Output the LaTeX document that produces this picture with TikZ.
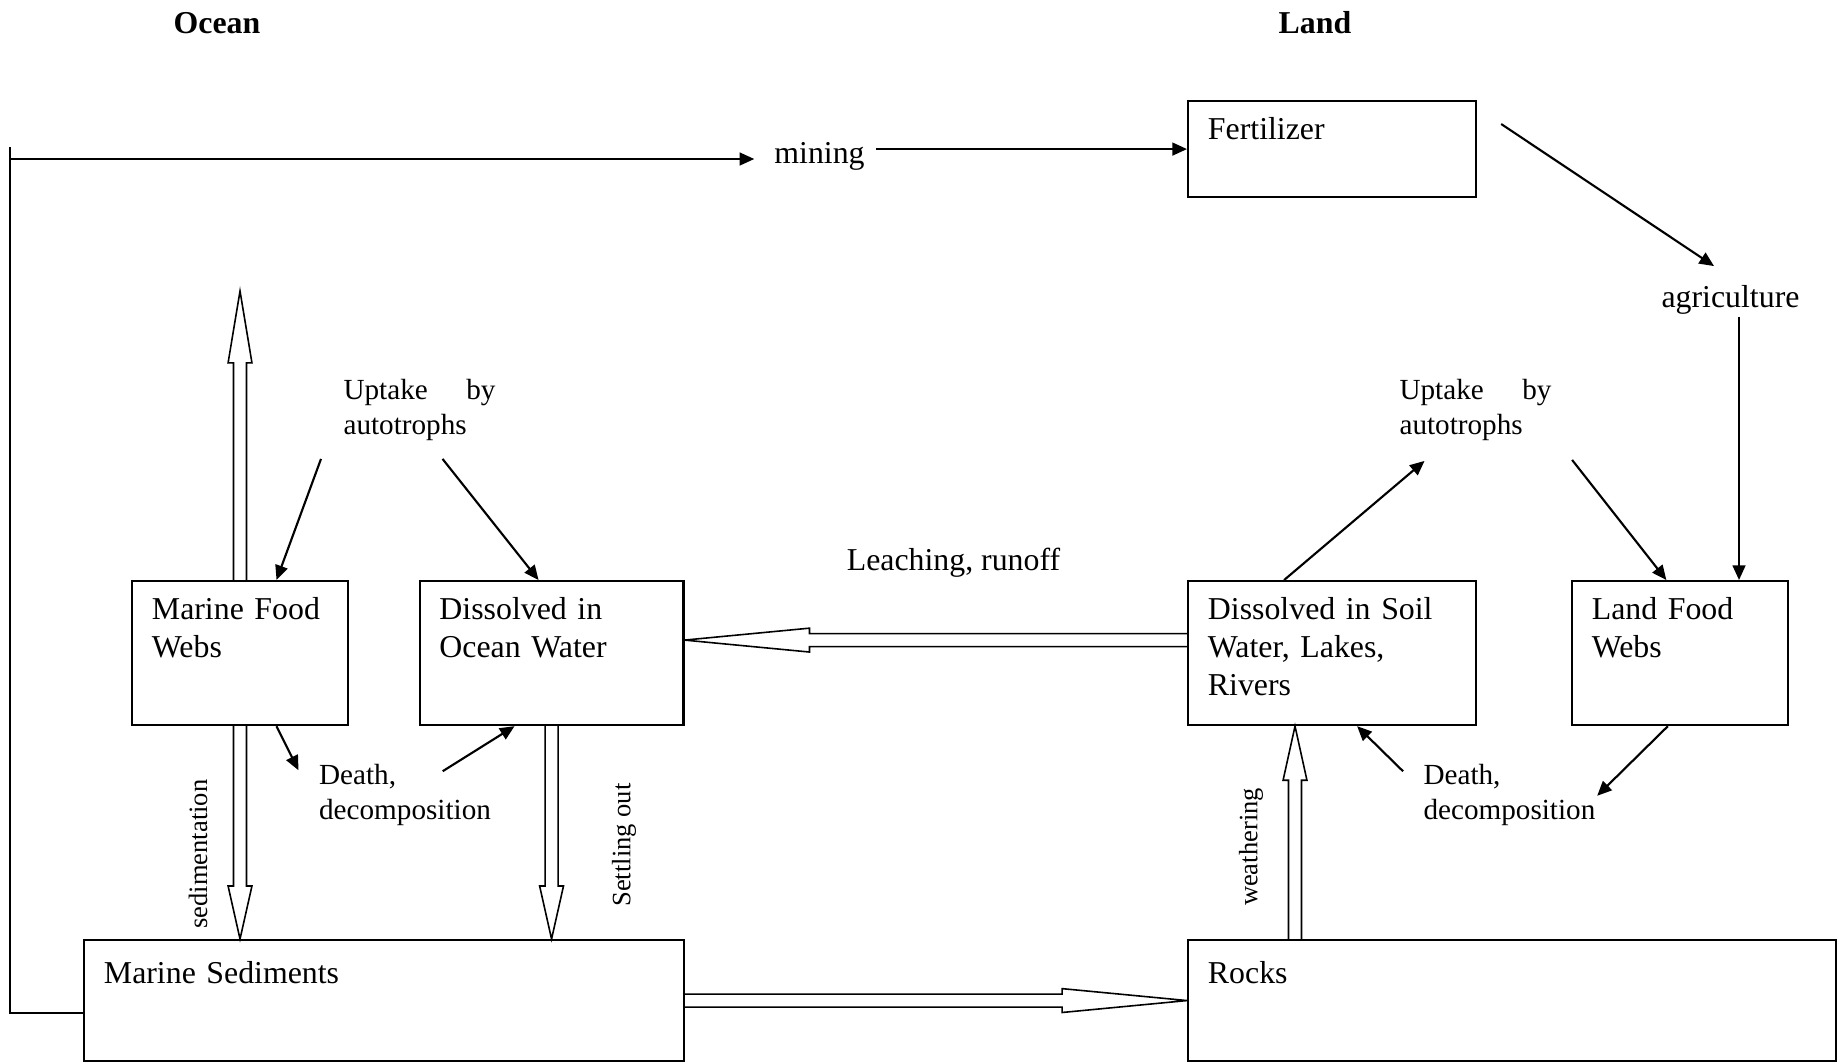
\documentclass[tikz,border=0pt]{standalone}
\usepackage{fontspec}
\setmainfont{Liberation Serif}
\usepackage{tikz}
\usetikzlibrary{calc,arrows.meta,positioning,backgrounds}
\tikzstyle{reservoir}=[draw,line width=0.8pt,anchor=north west,inner xsep=7.5pt,inner ysep=0pt,align=left,text height=14.6pt,text depth=39.7pt,font={\fontsize{12}{14.2}\selectfont}]
\tikzstyle{process}=[inner sep=4pt,anchor=base,font={\fontsize{12}{14.2}\selectfont}]
\tikzstyle{note}=[inner sep=4pt,align=left,anchor=base west,font={\fontsize{11}{13.4}\selectfont}]
\tikzstyle{sideways}=[rotate=90,inner sep=1pt,font={\fontsize{10}{12}\selectfont}]
\tikzstyle{region}=[anchor=base,font={\fontsize{12}{14.2}\selectfont\bfseries}]
\tikzstyle{flow}=[line width=0.8pt,->]
\newcommand{\bigflow}[3]{%
  \draw[line width=0.6pt,fill=white,line join=miter]
    let \p1=#2, \p2=#3, \n1={atan2(\y2-\y1,\x2-\x1)}, \n2={veclen(\x2-\x1,\y2-\y1)} in
    [shift={(\p1)},rotate=\n1]
    (0pt,2.45pt) -- ({\n2-#1},2.45pt) -- ({\n2-#1},4.5pt) -- (\n2,0pt)
    -- ({\n2-#1},-4.5pt) -- ({\n2-#1},-2.45pt) -- (0pt,-2.45pt);
}

\begin{document}
\begin{tikzpicture}[x=0.377pt,y=-0.377pt,>={Triangle[length=5.5pt,width=4.8pt]}]
\useasboundingbox (0,0) rectangle (1845,1062);
\node[region] (ocean) at (217,33) {Ocean};
\node[region] (land) at (1315,33) {Land};

\node[reservoir,text width=66.4pt] (mfw) at (131,580) {Marine Food\\Webs};
\node[reservoir,text width=84.5pt,right=26.2pt of mfw] (ocw) {Dissolved in\\Ocean Water};
\node[reservoir,text width=93.6pt] (soil) at (1187,580) {Dissolved in Soil\\Water, Lakes,\\Rivers};
\node[reservoir,text width=66.4pt,right=35.3pt of soil] (lfw) {Land Food\\Webs};
\node[reservoir,text width=93.6pt,text depth=21.6pt] (fert) at (1187,100) {Fertilizer};
\node[reservoir,text width=211.2pt,text height=16.2pt,text depth=29.4pt] (msed) at (83,939) {Marine Sediments};
\node[reservoir,text width=229.3pt,text height=16.2pt,text depth=29.4pt] (rocks) at (1187,939) {Rocks};

\node[process] (mining) at (819.5,163) {mining};
\node[process] (agri) at (1730.5,307) {agriculture};
\node[process] (leach) at (953.5,570) {Leaching, runoff};
\node[note,text width=57.3pt] (upl) at (332.4,399) {Uptake\hfill by\\autotrophs};
\node[note,text width=57.3pt] (upr) at (1388.4,399) {Uptake\hfill by\\autotrophs};
\node[note,text width=66pt] (deathl) at (308,784) {Death,\\decomposition};
\node[note,text width=66pt] (deathr) at (1412.4,784) {Death,\\decomposition};
\node[sideways] (sedi) at (198,854) {sedimentation};
\node[sideways] (settle) at (624,845) {Settling out};
\node[sideways] (weather) at (1251,847) {weathering};

% mining loop
\coordinate (topl) at (10,159);
\coordinate (loopend) at (10,147);
\coordinate (mfwtop) at ($(mfw.north)+(0,-289)$);
\draw[line width=0.8pt] ($(msed.west)+(0,12.5)$) -| (loopend);
\draw[flow] (topl) -- ($(topl -| mining.west)+(-9,0)$);
\draw[flow] (mining.east |- fert.west) -- (fert.west);

% land side
\draw[flow] ($(fert.north east)+(24,24)$) -- ($(agri.north)+(-16.5,-7.7)$);
\draw[flow] ($(agri.south)+(8.5,-8.5)$) -- ($(agri.south |- lfw.north)+(8.5,0)$);
\draw[flow] ($(soil.north)+(-48,0)$) -- ($(upr.south)+(-51,9)$);
\draw[flow] ($(upr.south east)+(9.4,8)$) -- ($(lfw.north)+(-13.5,0)$);
\draw[flow] ($(lfw.south)+(-12,0)$) -- ($(deathr.east)+(-12.6,1)$);
\draw[flow] ($(deathr.north west)+(-9.4,18.6)$) -- ($(soil.south)+(25,0)$);

% ocean side
\draw[flow] ($(upl.south west)+(-11.4,7)$) -- ($(mfw.north)+(36.5,0)$);
\draw[flow] ($(upl.south)+(23,7)$) -- ($(ocw.north)+(-13,0)$);
\draw[flow] ($(mfw.south)+(36.5,0)$) -- ($(deathl.north west)+(-9.5,17.6)$);
\draw[flow] ($(deathl.north)+(36,18.6)$) -- ($(ocw.south)+(-37,0)$);

% hollow arrows
\begin{pgfonlayer}{background}
\bigflow{27.1pt}{(mfw.north)}{(mfwtop)}
\bigflow{20pt}{(mfw.south)}{(mfw.south |- msed.north)}
\bigflow{20pt}{(ocw.south)}{(ocw.south |- msed.north)}
\bigflow{20.4pt}{($(rocks.north west)+(108,0)$)}{($(soil.south west)+(108,0)$)}
\bigflow{47.1pt}{($(soil.west)+(0,-13)$)}{($(ocw.east)+(0,-13)$)}
\bigflow{47.1pt}{(msed.east)}{(rocks.west)}
\end{pgfonlayer}
\end{tikzpicture}
\end{document}
